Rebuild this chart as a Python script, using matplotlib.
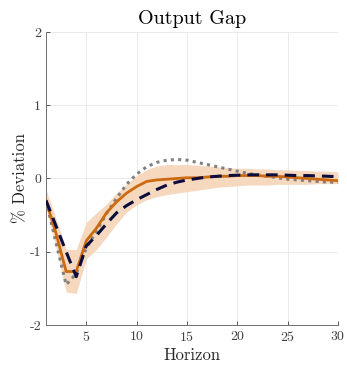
import numpy as np
import matplotlib.pyplot as plt

# --------------------------------------------------------------------------------/
horizon = np.arange(1, 31)

median = [-0.30, -0.75, -1.27, -1.27, -0.85, -0.68, -0.47, -0.32, -0.20, -0.11,
          -0.04, -0.02, -0.01, 0.00, 0.01, 0.01, 0.02, 0.03, 0.03, 0.04,
          0.04, 0.04, 0.03, 0.03, 0.02, 0.01, 0.00, -0.01, -0.02, -0.03]

band_hi = [-0.15, -0.55, -0.97, -0.97, -0.60, -0.47, -0.35, -0.20, -0.08, 0.04,
           0.12, 0.17, 0.19, 0.19, 0.19, 0.18, 0.17, 0.16, 0.15, 0.14,
           0.14, 0.13, 0.13, 0.12, 0.12, 0.11, 0.11, 0.10, 0.10, 0.09]

band_lo = [-0.40, -0.95, -1.55, -1.57, -1.10, -0.97, -0.80, -0.62, -0.46, -0.36,
           -0.29, -0.25, -0.22, -0.20, -0.18, -0.16, -0.14, -0.12, -0.11, -0.10,
           -0.09, -0.09, -0.09, -0.08, -0.08, -0.08, -0.08, -0.07, -0.07, -0.07]

dashed = [-0.30, -0.65, -1.00, -1.34, -0.92, -0.78, -0.62, -0.47, -0.37, -0.29,
          -0.22, -0.15, -0.09, -0.05, -0.02, 0.00, 0.02, 0.03, 0.04, 0.045,
          0.05, 0.05, 0.05, 0.05, 0.045, 0.04, 0.04, 0.035, 0.03, 0.025]

dotted = [-0.30, -0.88, -1.45, -1.30, -0.95, -0.72, -0.48, -0.27, -0.08, 0.06,
          0.16, 0.22, 0.25, 0.26, 0.25, 0.22, 0.19, 0.16, 0.13, 0.10,
          0.07, 0.05, 0.03, 0.01, -0.01, -0.02, -0.03, -0.04, -0.05, -0.05]

xticks = [5, 10, 15, 20, 25, 30]
yticks = [-2, -1, 0, 1, 2]
ylabels = ['-2', '-1', '0', '1', '2']
# --------------------------------------------------------------------------------/
plt.rcParams['font.family'] = 'cmr10'
plt.rcParams['axes.formatter.use_mathtext'] = True
plt.rcParams['axes.unicode_minus'] = False

fig = plt.figure(figsize=(3.47, 3.66), dpi=100)
axe = fig.add_axes([0.1326, 0.112, 0.8414, 0.8006])

axe.fill_between(horizon, band_lo, band_hi, color='#f6d8bf', lw=0, zorder=2)
axe.plot(horizon, dotted, color='#808080', lw=2.2, ls=(0, (1.0, 1.4)), zorder=3)
axe.plot(horizon, median, color='#cc6a10', lw=2.0, zorder=4)
axe.plot(horizon, dashed, color='#0d0d3d', lw=2.2, ls=(0, (3.8, 2.3)), zorder=5)

axe.set_xlim(1, 30)
axe.set_ylim(-2, 2)
axe.set_xticks(xticks)
axe.set_yticks(yticks)
axe.set_yticklabels(ylabels)
axe.grid(True, color='#e6e6e6', lw=0.6, zorder=0)
axe.set_axisbelow(True)
axe.tick_params(direction='in', length=3, width=0.6, colors='#404040', labelsize=10)
for s in ['top', 'right']:
    axe.spines[s].set_visible(False)
for s in ['left', 'bottom']:
    axe.spines[s].set_color('#707070')
    axe.spines[s].set_linewidth(0.7)

axe.set_title('Output Gap', fontsize=14.5, pad=6)
axe.set_xlabel('Horizon', fontsize=12, color='#262626', labelpad=3)
axe.set_ylabel('% Deviation', fontsize=12, color='#262626', labelpad=1)

fig.savefig('out.png', dpi=100)
# --------------------------------------------------------------------------------/
# eof
# --------------------------------------------------------------------------------/
